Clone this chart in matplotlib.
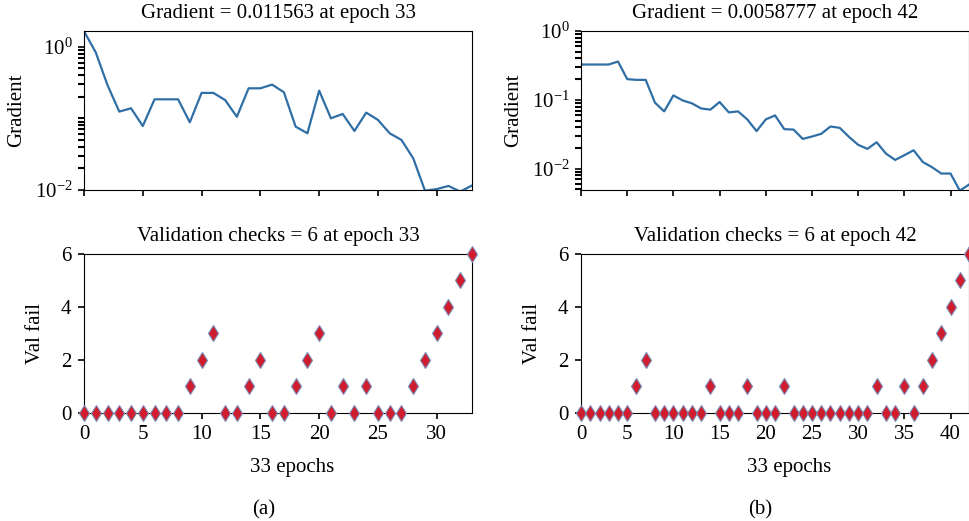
import numpy as np
import matplotlib
matplotlib.use("Agg")
import matplotlib.pyplot as plt
from matplotlib.ticker import NullFormatter, FixedLocator

plt.rcParams['font.family'] = ['Liberation Serif', 'DejaVu Serif']
plt.rcParams['mathtext.fontset'] = 'custom'
plt.rcParams['mathtext.rm'] = 'Liberation Serif'
plt.rcParams['mathtext.it'] = 'Liberation Serif:italic'

# panel (a): 33 epochs
grad_a = [1.64, 0.83, 0.29, 0.124, 0.138, 0.078, 0.184, 0.184, 0.184, 0.088,
          0.226, 0.226, 0.18, 0.105, 0.262, 0.262, 0.295, 0.231, 0.0765, 0.0618,
          0.243, 0.1, 0.115, 0.0666, 0.12, 0.095, 0.0618, 0.0499, 0.0277, 0.0098,
          0.0103, 0.0114, 0.0095, 0.011563]
val_a = [0, 0, 0, 0, 0, 0, 0, 0, 0, 1, 2, 3, 0, 0, 1, 2, 0, 0, 1, 2,
         3, 0, 1, 0, 1, 0, 0, 0, 1, 2, 3, 4, 5, 6]

# panel (b): 42 epochs
grad_b = [0.326, 0.326, 0.326, 0.326, 0.36, 0.2, 0.195, 0.195, 0.091, 0.068,
          0.116, 0.098, 0.089, 0.075, 0.072, 0.093, 0.0657, 0.068, 0.0519, 0.0351,
          0.052, 0.0594, 0.0375, 0.037, 0.0271, 0.0293, 0.0321, 0.041, 0.0392, 0.029,
          0.0222, 0.0194, 0.0242, 0.0166, 0.0134, 0.0157, 0.0185, 0.0125, 0.0105, 0.0085,
          0.0085, 0.0048, 0.0058777]
val_b = [0, 0, 0, 0, 0, 0, 1, 2, 0, 0, 0, 0, 0, 0, 1, 0, 0, 0, 1, 0,
         0, 0, 1, 0, 0, 0, 0, 0, 0, 0, 0, 0, 1, 0, 0, 1, 0, 1, 2, 3,
         4, 5, 6]

titles_grad = ['Gradient = 0.011563 at epoch 33', 'Gradient = 0.0058777 at epoch 42']
titles_val = ['Validation checks = 6 at epoch 33', 'Validation checks = 6 at epoch 42']
grad_ylim = [(0.01, 1.65), (0.0049, 1.0)]
grad_yticks = [[0.01, 1.0], [0.01, 0.1, 1.0]]
panel_tags = ['(a)', '(b)']

line_col = '#2f6fa5'
fs = 15

fig = plt.figure(figsize=(9.7, 5.21), dpi=100)
lefts = [0.0866, 0.599]
grads = [grad_a, grad_b]
vals = [val_a, val_b]

# minor ticks for the log axes
minor_log = [k * 10.0 ** e for e in range(-3, 1) for k in range(2, 10)] + [0.1]

for i in range(2):
    g = np.array(grads[i])
    v = np.array(vals[i])
    ep = np.arange(len(g))

    ax1 = fig.add_axes([lefts[i], 0.6353, 0.4, 0.3052])
    ax1.plot(ep, g, color=line_col, lw=1.6)
    ax1.set_yscale('log')
    ax1.set_xlim(0, len(g) - 1)
    lo, hi = grad_ylim[i]
    ax1.set_ylim(lo, hi)
    ax1.yaxis.set_major_locator(FixedLocator(grad_yticks[i]))
    ax1.yaxis.set_minor_locator(FixedLocator([t for t in minor_log if t not in grad_yticks[i]]))
    ax1.yaxis.set_minor_formatter(NullFormatter())
    ax1.set_xticks(np.arange(0, len(g), 5))
    ax1.set_xticklabels([])
    ax1.set_ylabel('Gradient', fontsize=fs)
    ax1.yaxis.set_label_coords(-0.148, 0.5)
    ax1.set_title(titles_grad[i], fontsize=fs, pad=9.5)
    ax1.tick_params(direction='out', length=4, width=1.2, labelsize=fs, pad=4)
    ax1.tick_params(axis='y', which='minor', direction='out', length=4,
                    width=1.5, color='black', left=True)

    ax2 = fig.add_axes([lefts[i], 0.2073, 0.4, 0.3052])
    ax2.plot(ep, v, linestyle='none', marker='d', markersize=8,
             markerfacecolor='#d01c2c', markeredgecolor='#7b8bb5', markeredgewidth=0.8,
             clip_on=False, zorder=5)
    ax2.set_xlim(0, len(v) - 1)
    ax2.set_ylim(0, 6)
    ax2.set_yticks([0, 2, 4, 6])
    ax2.set_xticks(np.arange(0, len(v), 5))
    ax2.set_ylabel('Val fail', fontsize=fs)
    ax2.yaxis.set_label_coords(-0.10, 0.5)
    ax2.set_xlabel('33 epochs', fontsize=fs)
    ax2.xaxis.set_label_coords(0.537, -0.28)
    ax2.set_title(titles_val[i], fontsize=fs, pad=9.5)
    ax2.tick_params(direction='out', length=4, width=1.2, labelsize=fs, pad=5)

    fig.text(lefts[i] + 0.2 - 0.015, 0.021, panel_tags[i], ha='center', va='center', fontsize=fs)

fig.savefig('out.png', dpi=100)
